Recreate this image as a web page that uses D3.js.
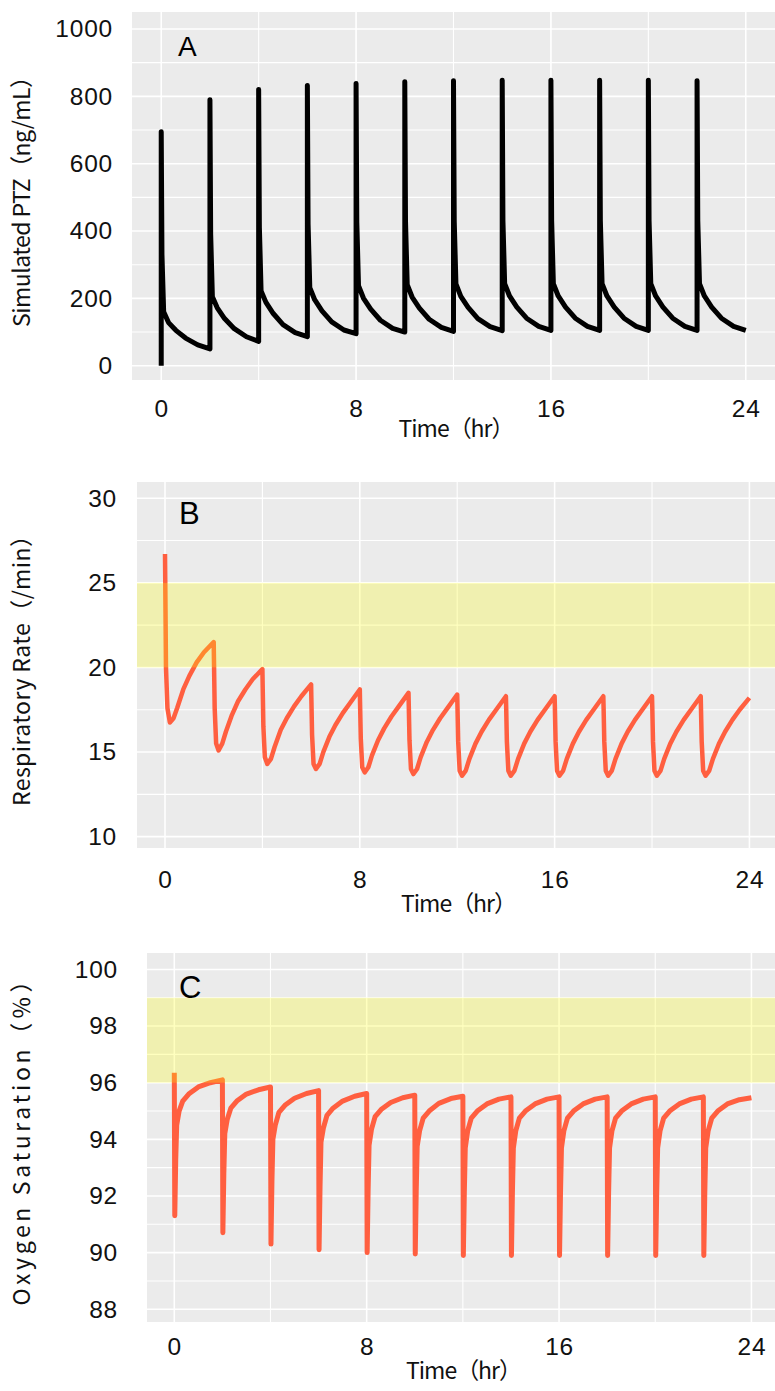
<!DOCTYPE html>
<html>
<head>
<meta charset="utf-8">
<script src="https://cdn.jsdelivr.net/npm/d3@7"></script>
<style>
  body { margin: 0; background: #fff; }
  svg { display: block; }
</style>
</head>
<body>
<svg id="chart" width="775" height="1391"></svg>
<script>
// ---- Dosing schedule (every 2 h) ----
const doseTimes = [0, 2, 4, 6, 8, 10, 12, 14, 16, 18, 20, 22];

// ---- A: simulated PTZ concentration (ng/mL) per dosing interval ----
// hours after each dose; the first two samples share the dose time (trough, then peak)
const ptzOffsets = [0, 0, 0.03, 0.1, 0.3, 0.6, 1.0, 1.5, 2.0];
const ptzCycles = [
  [0, 695, 330, 160, 128, 105, 82, 62, 50],
  [50, 790, 390, 205, 172, 140, 110, 86, 72],
  [72, 820, 410, 222, 188, 155, 122, 98, 86],
  [86, 832, 420, 232, 196, 163, 130, 106, 95],
  [95, 838, 425, 238, 201, 168, 135, 111, 100],
  [100, 843, 428, 241, 204, 171, 138, 114, 102],
  [102, 846, 430, 243, 206, 173, 140, 116, 104],
  [104, 848, 430, 244, 207, 174, 141, 117, 105],
  [105, 848, 430, 244, 207, 174, 141, 117, 105],
  [105, 848, 430, 244, 207, 174, 141, 117, 105],
  [105, 848, 430, 244, 207, 174, 141, 117, 105],
  [105, 846, 430, 244, 207, 174, 141, 117, 105]
];

// ---- B: respiratory rate (/min) per dosing interval ----
const rrOffsets = [0, 0.01, 0.04, 0.1, 0.2, 0.35, 0.5, 0.75, 1.0, 1.3, 1.6, 2.0];
const rrCycles = [
  [26.7, 25.2, 20.0, 17.6, 16.75, 17.0, 17.6, 18.7, 19.5, 20.3, 20.9, 21.5],
  [21.5, 20.5, 17.6, 15.5, 15.1, 15.5, 16.2, 17.2, 18.0, 18.7, 19.3, 19.9],
  [19.9, 19.0, 16.5, 14.7, 14.3, 14.6, 15.3, 16.3, 17.0, 17.7, 18.3, 19.0],
  [19.0, 18.2, 16.0, 14.3, 14.0, 14.3, 15.0, 15.9, 16.6, 17.3, 17.9, 18.7],
  [18.7, 17.9, 15.8, 14.1, 13.8, 14.1, 14.8, 15.7, 16.4, 17.1, 17.7, 18.5],
  [18.5, 17.8, 15.7, 14.0, 13.7, 14.0, 14.7, 15.6, 16.3, 17.0, 17.6, 18.4],
  [18.4, 17.7, 15.6, 13.9, 13.6, 13.9, 14.6, 15.5, 16.2, 16.9, 17.5, 18.3],
  [18.3, 17.7, 15.6, 13.9, 13.6, 13.9, 14.6, 15.5, 16.2, 16.9, 17.5, 18.3],
  [18.3, 17.7, 15.6, 13.9, 13.6, 13.9, 14.6, 15.5, 16.2, 16.9, 17.5, 18.3],
  [18.3, 17.7, 15.6, 13.9, 13.6, 13.9, 14.6, 15.5, 16.2, 16.9, 17.5, 18.3],
  [18.3, 17.7, 15.6, 13.9, 13.6, 13.9, 14.6, 15.5, 16.2, 16.9, 17.5, 18.3],
  [18.3, 17.6, 15.6, 13.9, 13.6, 13.9, 14.6, 15.5, 16.2, 16.9, 17.5, 18.2]
];
const rrNormal = [20, 25];

// ---- C: oxygen saturation (%) per dosing interval ----
const spo2Offsets = [0, 0.02, 0.06, 0.1, 0.2, 0.35, 0.6, 1.0, 1.5, 2.0];
const spo2Cycles = [
  [96.35, 91.3, 93.3, 94.5, 95.0, 95.35, 95.6, 95.85, 96.0, 96.1],
  [96.1, 90.7, 92.8, 94.2, 94.7, 95.1, 95.35, 95.6, 95.75, 95.85],
  [95.85, 90.3, 92.5, 94.0, 94.5, 94.95, 95.2, 95.45, 95.62, 95.72],
  [95.72, 90.1, 92.3, 93.9, 94.4, 94.85, 95.1, 95.35, 95.52, 95.62],
  [95.62, 90.0, 92.2, 93.8, 94.35, 94.8, 95.05, 95.3, 95.47, 95.56],
  [95.56, 89.95, 92.15, 93.75, 94.3, 94.75, 95.0, 95.27, 95.44, 95.52],
  [95.52, 89.9, 92.1, 93.7, 94.3, 94.75, 95.0, 95.25, 95.42, 95.5],
  [95.5, 89.9, 92.1, 93.7, 94.3, 94.75, 95.0, 95.25, 95.42, 95.5],
  [95.5, 89.9, 92.1, 93.7, 94.3, 94.75, 95.0, 95.25, 95.42, 95.5],
  [95.5, 89.9, 92.1, 93.7, 94.3, 94.75, 95.0, 95.25, 95.42, 95.5],
  [95.5, 89.9, 92.1, 93.7, 94.3, 94.75, 95.0, 95.25, 95.42, 95.5],
  [95.5, 89.9, 92.1, 93.7, 94.3, 94.75, 95.0, 95.25, 95.4, 95.47]
];
const spo2Normal = [96, 99];

// ---- Axis ticks and labels ----
const timeTicks = [0, 8, 16, 24];
const timeMinor = [4, 12, 20];
const ptzTicks = [0, 200, 400, 600, 800, 1000];
const ptzMinor = [100, 300, 500, 700, 900];
const rrTicks = [10, 15, 20, 25, 30];
const rrMinor = [12.5, 17.5, 22.5, 27.5];
const spo2Ticks = [88, 90, 92, 94, 96, 98, 100];
const spo2Minor = [89, 91, 93, 95, 97, 99];
const timeTitle = "Time（hr）";

// Flatten per-dose curves into one time series
function series(offsets, cycles) {
  const pts = [];
  cycles.forEach((vals, i) => {
    vals.forEach((v, j) => pts.push([doseTimes[i] + offsets[j], v]));
  });
  return pts;
}

const svg = d3.select("#chart");
const tickFont = "'Liberation Sans', Arial, sans-serif";
const titleFont = "'Noto Sans CJK JP', 'Noto Sans', sans-serif";
const plainNum = d3.format("d");

const panels = [
  {
    letter: "A", data: series(ptzOffsets, ptzCycles), color: "#000000", width: 5,
    box: { l: 132, r: 775, t: 12, b: 380 }, xDom: [-1.2, 25.2], yDom: [-42.5, 1050.5],
    yTicks: ptzTicks, yMinor: ptzMinor, yTitle: "Simulated PTZ（ng/mL）", yTitleLen: 262,
    yLabPad: 19, xLabY: 408, xTitleY: 429, band: null, letterPos: [178, 56], letterSize: 28
  },
  {
    letter: "B", data: series(rrOffsets, rrCycles), color: "#ff5f40", width: 4.5,
    box: { l: 137, r: 775, t: 482, b: 848 }, xDom: [-1.15, 25.05], yDom: [9.33, 30.96],
    yTicks: rrTicks, yMinor: rrMinor, yTitle: "Respiratory Rate（/min）", yTitleLen: 282,
    yLabPad: 20, xLabY: 879, xTitleY: 904, band: rrNormal, letterPos: [179, 524], letterSize: 31
  },
  {
    letter: "C", data: series(spo2Offsets, spo2Cycles), color: "#ff5f40", width: 5,
    box: { l: 147, r: 775, t: 953, b: 1322 }, xDom: [-1.135, 24.98], yDom: [87.55, 100.58],
    yTicks: spo2Ticks, yMinor: spo2Minor, yTitle: "Oxygen Saturation（％）", yTitleLen: 336,
    yLabPad: 29, xLabY: 1346, xTitleY: 1371, band: spo2Normal, letterPos: [179, 998], letterSize: 31
  }
];

panels.forEach(p => {
  const x = d3.scaleLinear().domain(p.xDom).range([p.box.l, p.box.r]);
  const y = d3.scaleLinear().domain(p.yDom).range([p.box.b, p.box.t]);
  const g = svg.append("g");

  // panel background
  g.append("rect")
    .attr("x", p.box.l).attr("y", p.box.t)
    .attr("width", p.box.r - p.box.l).attr("height", p.box.b - p.box.t)
    .attr("fill", "#ebebeb");

  // grid lines
  const grid = g.append("g").attr("stroke", "#ffffff");
  grid.selectAll(".vminor").data(timeMinor).join("line")
    .attr("x1", d => x(d)).attr("x2", d => x(d))
    .attr("y1", p.box.t).attr("y2", p.box.b).attr("stroke-width", 1.1);
  grid.selectAll(".hminor").data(p.yMinor).join("line")
    .attr("y1", d => y(d)).attr("y2", d => y(d))
    .attr("x1", p.box.l).attr("x2", p.box.r).attr("stroke-width", 1.1);
  grid.selectAll(".vmajor").data(timeTicks).join("line")
    .attr("x1", d => x(d)).attr("x2", d => x(d))
    .attr("y1", p.box.t).attr("y2", p.box.b).attr("stroke-width", 1.6);
  grid.selectAll(".hmajor").data(p.yTicks).join("line")
    .attr("y1", d => y(d)).attr("y2", d => y(d))
    .attr("x1", p.box.l).attr("x2", p.box.r).attr("stroke-width", 1.6);

  // simulated time course
  const line = d3.line().x(d => x(d[0])).y(d => y(d[1]));
  g.append("path")
    .datum(p.data)
    .attr("d", line)
    .attr("fill", "none")
    .attr("stroke", p.color)
    .attr("stroke-width", p.width)
    .attr("stroke-linejoin", "round")
    .attr("stroke-linecap", "butt");

  // normal range band, drawn translucent on top
  if (p.band) {
    g.append("rect")
      .attr("x", p.box.l).attr("width", p.box.r - p.box.l)
      .attr("y", y(p.band[1])).attr("height", y(p.band[0]) - y(p.band[1]))
      .attr("fill", "#ffff00").attr("fill-opacity", 0.25);
  }

  // axes (labels only, ggplot-like)
  const yAxis = d3.axisLeft(y).tickValues(p.yTicks).tickFormat(plainNum)
    .tickSize(0).tickPadding(p.yLabPad);
  const ya = g.append("g").attr("transform", `translate(${p.box.l},0)`).call(yAxis);
  ya.select(".domain").remove();
  ya.selectAll("text").attr("font-family", tickFont).attr("font-size", 24.5)
    .attr("fill", "#111").attr("letter-spacing", 0.8);

  const xAxis = d3.axisBottom(x).tickValues(timeTicks).tickFormat(plainNum)
    .tickSize(0).tickPadding(0);
  const xa = g.append("g").attr("transform", `translate(0,${p.xLabY})`).call(xAxis);
  xa.select(".domain").remove();
  xa.selectAll("text").attr("font-family", tickFont).attr("font-size", 24.5)
    .attr("fill", "#111").attr("y", 0).attr("dy", "0.35em").attr("letter-spacing", 0.8);

  // axis titles
  g.append("text")
    .attr("x", (p.box.l + p.box.r) / 2 + 3).attr("y", p.xTitleY)
    .attr("dy", "0.35em").attr("text-anchor", "middle")
    .attr("font-family", titleFont).attr("font-size", 23).attr("fill", "#111")
    .attr("textLength", 116).attr("lengthAdjust", "spacing")
    .text(timeTitle);

  g.append("text")
    .attr("transform", `translate(22,${(p.box.t + p.box.b) / 2}) rotate(-90)`)
    .attr("dy", "0.35em").attr("text-anchor", "middle")
    .attr("font-family", titleFont).attr("font-size", 23).attr("fill", "#111")
    .attr("textLength", p.yTitleLen).attr("lengthAdjust", "spacing")
    .text(p.yTitle);

  // panel letter
  g.append("text")
    .attr("x", p.letterPos[0]).attr("y", p.letterPos[1])
    .attr("font-family", "'Liberation Sans', Arial, sans-serif")
    .attr("font-size", p.letterSize).attr("fill", "#000")
    .text(p.letter);
});
</script>
</body>
</html>
